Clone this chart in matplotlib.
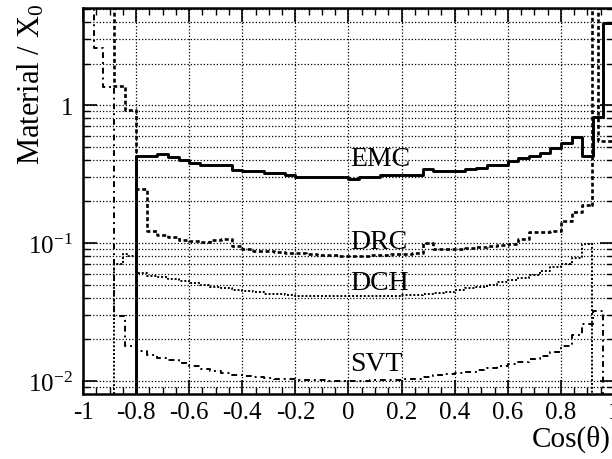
import numpy as np
import matplotlib
matplotlib.use("Agg")
import matplotlib.pyplot as plt

plt.rcParams['font.family'] = ['Liberation Serif', 'DejaVu Serif']
plt.rcParams['mathtext.fontset'] = 'custom'
plt.rcParams['mathtext.rm'] = 'Liberation Serif'
plt.rcParams['mathtext.it'] = 'Liberation Serif:italic'

# bin grid used by the histograms (width 0.04 from -0.8 to 1.0)
grid = np.round(np.arange(-0.80, 1.0001, 0.04), 2)

# EMC (solid)
emc_edges = np.concatenate([[-1.0], grid])
emc_vals = [0.001,
            0.43, 0.43, 0.44, 0.42, 0.40, 0.38, 0.37, 0.37, 0.37, 0.34,
            0.33, 0.33, 0.32, 0.32, 0.31, 0.30, 0.30, 0.30, 0.30, 0.30,
            0.29, 0.30, 0.30, 0.31, 0.31, 0.31, 0.31, 0.345, 0.33, 0.33,
            0.33, 0.345, 0.35, 0.37, 0.37, 0.39, 0.41, 0.43, 0.45, 0.49,
            0.53, 0.585, 0.43, 0.82, 3.9]

# DRC (dashed)
drc_edges = np.concatenate([[-1.0, -0.885, -0.86, -0.84], grid[:44]])
drc_vals = [20, 1.37, 1.37, 0.92,
            0.246, 0.122, 0.115, 0.11, 0.106, 0.103, 0.101, 0.105, 0.107, 0.095,
            0.09, 0.088, 0.087, 0.086, 0.085, 0.084, 0.083, 0.082, 0.082, 0.081,
            0.081, 0.081, 0.082, 0.082, 0.083, 0.083, 0.084, 0.10, 0.09, 0.09,
            0.091, 0.092, 0.093, 0.095, 0.097, 0.098, 0.107, 0.12, 0.12, 0.123,
            0.145, 0.167, 0.19]
drc_tail_edges = [0.918, 0.94, 1.0]
drc_tail_vals = [20, 0.55]

# DCH (fine dotted)
dch_edges = np.concatenate([[-1.0, -0.885, -0.85, -0.83], grid[:44]])
dch_vals = [0.001, 0.0705, 0.083, 0.080,
            0.061, 0.058, 0.057, 0.055, 0.053, 0.051, 0.050, 0.048, 0.047, 0.046,
            0.045, 0.044, 0.043, 0.0425, 0.042, 0.0415, 0.041, 0.041, 0.041, 0.041,
            0.041, 0.041, 0.041, 0.041, 0.0415, 0.042, 0.042, 0.043, 0.0435, 0.0445,
            0.0455, 0.047, 0.048, 0.050, 0.052, 0.054, 0.056, 0.059, 0.063, 0.067,
            0.071, 0.078, 0.098]
dch_tail_edges = [0.918, 1.0]
dch_tail_vals = [0.001]

# SVT (dash-dot)
svt_edges = np.concatenate([[-1.0, -0.958, -0.925, -0.885, -0.84], grid])
svt_vals = [20, 2.6, 1.35, 0.0296, 0.0179,
            0.0165, 0.0155, 0.0148, 0.0142, 0.0135, 0.0128, 0.0122, 0.0118, 0.0114, 0.0111,
            0.0109, 0.0107, 0.0105, 0.0104, 0.0103, 0.0102, 0.0101, 0.0101, 0.0100, 0.0100,
            0.0100, 0.0100, 0.0101, 0.0101, 0.0102, 0.0103, 0.0104, 0.0107, 0.0110, 0.0112,
            0.0114, 0.0117, 0.0120, 0.0124, 0.0128, 0.0132, 0.0138, 0.0145, 0.0152, 0.0162,
            0.018, 0.0215, 0.026, 0.032, 0.001]

labels = ['EMC', 'DRC', 'DCH', 'SVT']
label_y = [0.41, 0.103, 0.052, 0.0133]

xticks = [-1, -0.8, -0.6, -0.4, -0.2, 0, 0.2, 0.4, 0.6, 0.8, 1]
xticklabels = ['-1', '-0.8', '-0.6', '-0.4', '-0.2', '0', '0.2', '0.4', '0.6', '0.8', '1']
yticks = [0.01, 0.1, 1]
yticklabels = ['$10^{-2}$', '$10^{-1}$', '1']


def steps(edges, vals):
    edges = np.asarray(edges, dtype=float)
    vals = np.asarray(vals, dtype=float)
    x = np.repeat(edges, 2)[1:-1]
    y = np.repeat(vals, 2)
    return x, y


fig = plt.figure(figsize=(6.12, 4.6), dpi=100)
ax = fig.add_axes([83 / 612, 1 - 395 / 460, 531 / 612, 386 / 460])
ax.set_yscale('log')
ax.set_xlim(-1, 1)
ax.set_ylim(0.00805, 5.05)

ax.grid(True, which='both', axis='y', color='k', lw=0.9, ls=(0, (1, 1.6)))
ax.grid(True, which='major', axis='x', color='k', lw=0.9, ls=(0, (1, 1.6)))

x, y = steps(svt_edges, svt_vals)
ax.plot(x, y, color='k', lw=1.4, ls=(0, (3, 2, 1, 2)))
x, y = steps(dch_edges, dch_vals)
ax.plot(x, y, color='k', lw=1.4, ls=(0, (1, 1)))
x, y = steps([dch_edges[-1]] + dch_tail_edges, [dch_vals[-1]] + dch_tail_vals)
ax.plot(x, y, color='k', lw=1.4, ls=(0, (1, 1)))
x, y = steps(drc_edges, drc_vals)
ax.plot(x, y, color='k', lw=1.9, ls=(0, (1.5, 1)))
x, y = steps([drc_edges[-1]] + drc_tail_edges, [drc_vals[-1]] + drc_tail_vals)
ax.plot(x, y, color='k', lw=1.9, ls=(0, (1.5, 1)))
x, y = steps(emc_edges, emc_vals)
ax.plot(x, y, color='k', lw=2.1, ls='-')

for name, yv in zip(labels, label_y):
    ax.text(0.005, yv, name, fontsize=20, ha='left', va='center')

ax.set_xticks(xticks)
ax.set_xticklabels(xticklabels, fontsize=18)
ax.set_xticks(np.arange(-1, 1.001, 0.05), minor=True)
ax.set_yticks(yticks)
ax.set_yticklabels(yticklabels, fontsize=18)
ax.tick_params(which='both', direction='in', top=True, right=True)
ax.tick_params(which='major', length=10, width=1.2)
ax.tick_params(which='minor', length=5, width=1.0)
ax.tick_params(axis='x', which='major', pad=5)
ax.tick_params(axis='y', which='major', pad=7)
for s in ax.spines.values():
    s.set_linewidth(1.8)

fig.text(31 / 612, 1 - 4 / 460, 'Material / X$_0$', fontsize=22,
         rotation=90, ha='center', va='top')
fig.text(611 / 612, 1 - 439 / 460, 'Cos(θ)', fontsize=21, ha='right', va='center')

fig.savefig('out.png', dpi=100)
